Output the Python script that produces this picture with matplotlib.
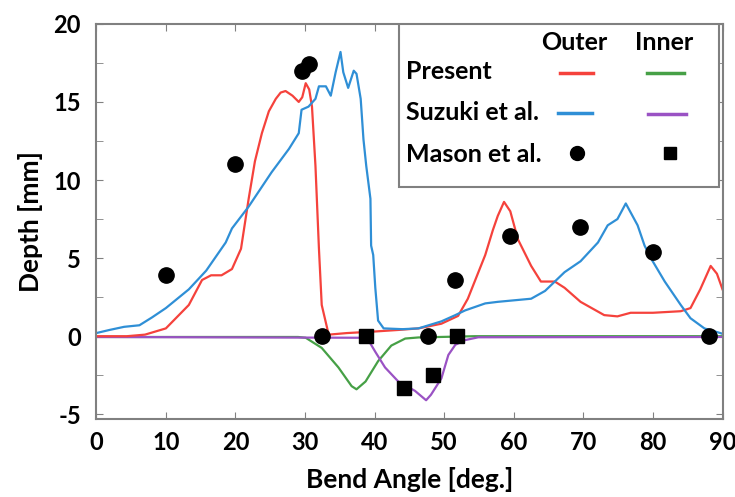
import matplotlib
matplotlib.use('Agg')
import matplotlib.pyplot as plt
from matplotlib.ticker import MultipleLocator
from matplotlib.patches import Rectangle

plt.rcParams['font.family'] = ['Lato', 'DejaVu Sans']
plt.rcParams['font.weight'] = 'bold'
plt.rcParams['axes.unicode_minus'] = False

# Present, outer (red)
present_outer_x = [0, 4.4, 7, 10, 13.3, 15.2, 16.5, 18, 19.5, 20.8, 21.9, 22.8, 23.8, 24.8,
                   25.8, 26.5, 27.2, 28.2, 29.1, 29.6, 30.1, 30.6, 31, 31.5, 32, 32.4, 33.4,
                   36, 40, 43.4, 46.3, 49.6, 52, 53.4, 55.9, 57, 57.7, 58.6, 59.5, 60.6, 62.5,
                   63.9, 65.9, 67.3, 69.6, 73, 74.9, 76.8, 80, 84, 85.4, 86.8, 88.3, 89.2, 90]
present_outer_y = [0, 0, 0.1, 0.5, 2.0, 3.6, 3.9, 3.9, 4.3, 5.6, 8.8, 11.2, 13.0, 14.4,
                   15.2, 15.6, 15.7, 15.4, 15.0, 15.3, 16.2, 15.8, 14.7, 10.9, 5.6, 2.0, 0.1,
                   0.2, 0.3, 0.4, 0.5, 0.8, 1.3, 2.4, 5.2, 6.8, 7.7, 8.6, 8.0, 6.2, 4.5,
                   3.5, 3.5, 3.1, 2.2, 1.35, 1.27, 1.5, 1.5, 1.6, 1.8, 3.0, 4.5, 4.0, 3.0]

# Suzuki et al., outer (blue)
suzuki_outer_x = [0, 1.9, 4, 6.2, 8, 10, 13.3, 15.8, 18.6, 19.5, 21.9, 25.2, 27.7, 29.1,
                  29.5, 30.5, 31.5, 32, 33, 33.7, 34.4, 35.1, 35.5, 36.2, 37, 37.4, 38,
                  38.4, 38.8, 39.4, 39.5, 39.8, 40.1, 40.5, 41.3, 44, 46.3, 49.6, 51.6, 53,
                  55.9, 57.7, 62.5, 64.5, 65.9, 67.3, 69.6, 72.1, 73.5, 74.9, 76.1, 77.8,
                  78.8, 79.7, 81.7, 84, 85.4, 87.4, 89.7, 90]
suzuki_outer_y = [0.2, 0.4, 0.6, 0.7, 1.2, 1.8, 3.0, 4.2, 6.0, 6.9, 8.3, 10.5, 12.0, 13.0,
                  14.5, 14.7, 15.2, 16.0, 16.0, 15.4, 16.9, 18.2, 16.9, 15.9, 17.0, 16.8, 15.2,
                  12.6, 10.9, 8.8, 5.8, 5.2, 3.1, 1.0, 0.5, 0.45, 0.5, 0.95, 1.35, 1.65,
                  2.1, 2.2, 2.4, 2.9, 3.5, 4.1, 4.8, 6.0, 7.1, 7.5, 8.5, 7.1,
                  5.8, 5.0, 3.5, 2.0, 1.15, 0.5, 0.2, 0.15]

# Present, inner (green)
present_inner_x = [0, 29, 30.1, 32.4, 34.8, 36.7, 37.4, 38.7, 40.5, 42.4, 44.4, 46.3, 54.4, 90]
present_inner_y = [-0.05, -0.05, -0.1, -0.75, -2.0, -3.2, -3.4, -2.9, -1.6, -0.6, -0.15, -0.08, 0, 0]

# Suzuki et al., inner (purple)
suzuki_inner_x = [0, 38, 39.1, 40.1, 41.5, 43.4, 45.8, 47.4, 48.1, 49.6, 50.6, 51.6, 53, 54.9, 90]
suzuki_inner_y = [-0.05, -0.1, -0.25, -1.0, -2.0, -2.9, -3.5, -4.1, -3.75, -2.7, -1.2, -0.55, -0.25, -0.07, -0.05]

# Mason et al. measurements
mason_outer_x = [10, 20, 29.5, 30.5, 32.4, 47.7, 51.6, 59.5, 69.5, 80, 88]
mason_outer_y = [3.9, 11.0, 17.0, 17.4, 0.0, 0.0, 3.6, 6.4, 7.0, 5.4, 0.0]
mason_inner_x = [38.8, 44.2, 48.4, 51.9]
mason_inner_y = [0.0, -3.3, -2.5, 0.0]

red = '#f5423c'
blue = '#2f8fd6'
green = '#46a046'
purple = '#9a52c4'

fig = plt.figure(figsize=(7.35, 4.97), dpi=100)
ax = fig.add_axes([0.131, 0.157, 0.852, 0.795])

lw = 1.6
ax.plot(present_inner_x, present_inner_y, color=green, lw=lw)
ax.plot(suzuki_inner_x, suzuki_inner_y, color=purple, lw=lw)
ax.plot(present_outer_x, present_outer_y, color=red, lw=lw)
ax.plot(suzuki_outer_x, suzuki_outer_y, color=blue, lw=lw)
ax.plot(mason_outer_x, mason_outer_y, 'o', color='black', ms=11, zorder=5)
ax.plot(mason_inner_x, mason_inner_y, 's', color='black', ms=10, zorder=5)

ax.set_xlim(0, 90)
ax.set_ylim(-5.3, 20)
ax.xaxis.set_major_locator(MultipleLocator(10))
ax.yaxis.set_major_locator(MultipleLocator(5))
ax.yaxis.set_minor_locator(MultipleLocator(2.5))
ax.tick_params(which='both', direction='in', top=True, right=True,
               color='#808080', labelsize=17, length=5)
ax.tick_params(axis='x', pad=9)
ax.tick_params(axis='y', pad=11)
for s in ax.spines.values():
    s.set_color('#808080')
    s.set_linewidth(1.5)

ax.set_xlabel('Bend Angle [deg.]', fontsize=19, fontweight='bold')
ax.set_ylabel('Depth [mm]', fontsize=19, fontweight='bold')
ax.xaxis.set_label_coords(0.5, -0.122)
ax.yaxis.set_label_coords(-0.085, 0.5)

# legend table drawn by hand
tr = ax.transAxes
fs = 18
ax.add_patch(Rectangle((0.484, 0.588), 0.510, 0.412, transform=tr, facecolor='white',
                       edgecolor='#808080', lw=1.5, zorder=6))
ax.text(0.764, 0.952, 'Outer', transform=tr, ha='center', va='center', fontsize=fs, zorder=7)
ax.text(0.906, 0.952, 'Inner', transform=tr, ha='center', va='center', fontsize=fs, zorder=7)
rows = ['Present', 'Suzuki et al.', 'Mason et al.']
row_y = [0.880, 0.776, 0.670]
for name, yy in zip(rows, row_y):
    ax.text(0.494, yy, name, transform=tr, ha='left', va='center', fontsize=fs, zorder=7)
ax.plot([0.740, 0.793], [0.876, 0.876], color=red, lw=2.5, transform=tr, zorder=7)
ax.plot([0.879, 0.939], [0.876, 0.876], color=green, lw=2.5, transform=tr, zorder=7)
ax.plot([0.738, 0.791], [0.775, 0.775], color=blue, lw=2.5, transform=tr, zorder=7)
ax.plot([0.881, 0.941], [0.771, 0.771], color=purple, lw=2.5, transform=tr, zorder=7)
ax.plot([0.767], [0.672], 'o', color='black', ms=10, transform=tr, zorder=7)
ax.plot([0.916], [0.672], 's', color='black', ms=9, transform=tr, zorder=7)

fig.savefig('out.png', dpi=100)
